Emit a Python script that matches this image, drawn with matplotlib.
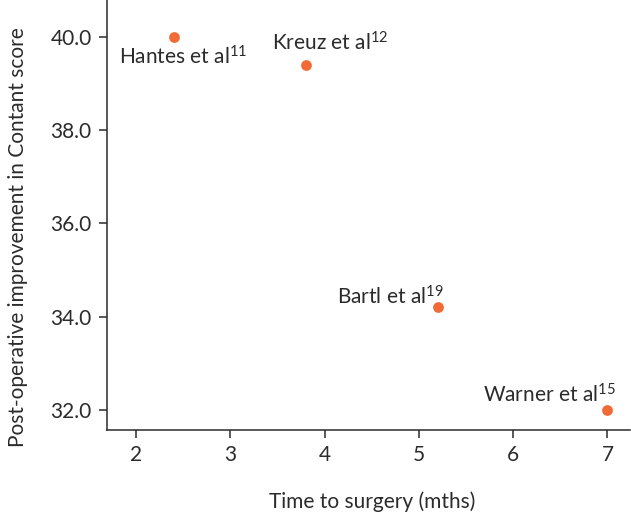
import matplotlib
matplotlib.use("Agg")
import matplotlib.pyplot as plt

# data
studies = ["Hantes et al", "Kreuz et al", "Bartl et al", "Warner et al"]
refs = ["11", "12", "19", "15"]
months = [2.4, 3.8, 5.2, 7.0]
improvement = [40.0, 39.4, 34.2, 32.0]
x_ticks = [2, 3, 4, 5, 6, 7]
y_ticks = [32.0, 34.0, 36.0, 38.0, 40.0]

plt.rcParams["font.family"] = ["Lato", "DejaVu Sans"]
plt.rcParams["mathtext.fontset"] = "custom"
plt.rcParams["mathtext.rm"] = "Lato"
plt.rcParams["mathtext.it"] = "Lato"

text_col = "#2b2b2b"
dot_col = "#f26a36"
fs = 15

fig = plt.figure(figsize=(6.31, 5.13), dpi=100)
ax = fig.add_axes([0.1696, 0.1618, 0.829, 0.838])

ax.scatter(months, improvement, s=60, color=dot_col, zorder=3, linewidths=0)

# label offsets from the point, in pixels (left edge, baseline)
offsets = [(-55, -28), (-34, 14), (-101, 3), (-124, 7)]
for name, r, x, y, (dx, dy) in zip(studies, refs, months, improvement, offsets):
    ax.annotate(name + r"$^{\mathrm{" + r + "}}$", (x, y), xytext=(dx, dy),
                textcoords="offset pixels", ha="left", va="baseline",
                fontsize=fs, color=text_col)

ax.set_xlim(1.69, 7.24)
ax.set_ylim(31.57, 40.79)
ax.set_xticks(x_ticks)
ax.set_yticks(y_ticks)
ax.set_yticklabels([f"{v:.1f}" for v in y_ticks])

for s in ["top", "right"]:
    ax.spines[s].set_visible(False)
for s in ["left", "bottom"]:
    ax.spines[s].set_color(text_col)
    ax.spines[s].set_linewidth(1.1)

ax.tick_params(direction="out", length=6, width=1.1, color=text_col,
               labelcolor=text_col, labelsize=fs, pad=5)

ax.set_xlabel("Time to surgery (mths)", fontsize=fs, color=text_col)
ax.xaxis.set_label_coords(0.507, -0.142)
ax.set_ylabel("Post-operative improvement in Contant score", fontsize=fs,
              color=text_col)
ax.yaxis.set_label_coords(-0.151, 0.449)

fig.savefig("out.png", dpi=100)
